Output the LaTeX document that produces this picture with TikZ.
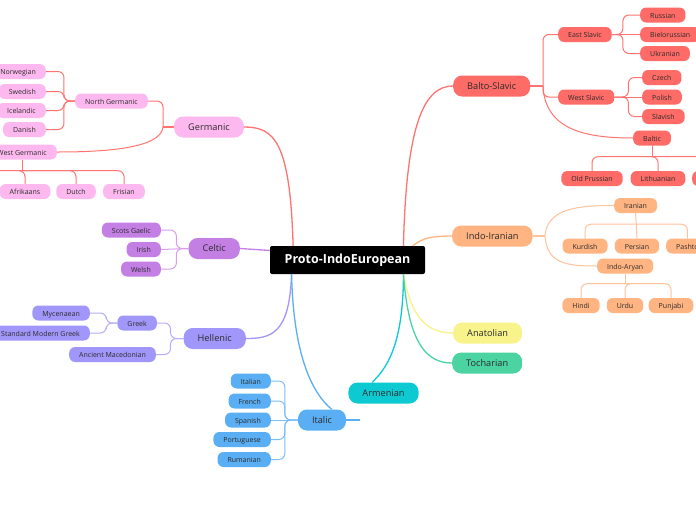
\documentclass[tikz,border=0pt]{standalone}
\usepackage{fontspec}
\setmainfont{Open Sans}
\usetikzlibrary{positioning,calc}
\definecolor{inkc}{HTML}{2B2B2B}
\definecolor{redB}{HTML}{FF6B66}
\definecolor{redL}{HTML}{FF7470}
\definecolor{pinkB}{HTML}{FDB9EF}
\definecolor{purpB}{HTML}{C47FE4}
\definecolor{purpL}{HTML}{D59DEC}
\definecolor{lavB}{HTML}{A197FA}
\definecolor{lavL}{HTML}{B5AEFB}
\definecolor{blueB}{HTML}{5AAEF4}
\definecolor{blueL}{HTML}{7EBEF6}
\definecolor{tealB}{HTML}{0DCAD2}
\definecolor{greenB}{HTML}{4BD4A1}
\definecolor{yellB}{HTML}{F8F38B}
\definecolor{orngB}{HTML}{FFB482}
\definecolor{orngL}{HTML}{FFC29C}
\tikzset{
  root/.style={fill=black,text=white,font=\fontsize{12.5}{14}\selectfont\bfseries,
              minimum width=155pt,minimum height=28pt,rounded corners=2pt},
  topic/.style={fill=#1,text=inkc,font=\fontsize{9.2}{11}\selectfont,
              inner xsep=14pt,inner ysep=0pt,minimum height=21pt,
              text height=1.5ex,text depth=.35ex,rounded corners=9pt},
  sub/.style={fill=#1,text=inkc,font=\fontsize{7}{8}\selectfont,
              inner xsep=10pt,inner ysep=0pt,minimum height=15pt,
              text height=1.5ex,text depth=.35ex,rounded corners=6pt},
  link/.style={draw=#1,line width=1.3pt},
  twig/.style={draw=#1,line width=1pt,rounded corners=6pt},
}

\begin{document}
\begin{tikzpicture}[x=1pt,y=-1pt]
  \fill[white] (0,0) rectangle (696,520);
  \useasboundingbox (0,0) rectangle (696,520);
  % root
  \node[root] (pie) at (347.5,260) {Proto-IndoEuropean};
  % main branches
  \node[topic=pinkB,anchor=east]  (germ) at (244,127)   {Germanic};
  \node[topic=purpB,anchor=east]  (celt) at (240,248.5) {Celtic};
  \node[topic=lavB,anchor=east]   (hell) at (246,338.5) {Hellenic};
  \node[topic=blueB]              (ital) at (322,420)   {Italic};
  \node[topic=tealB]              (arme) at (383.5,393) {Armenian};
  \node[topic=greenB,anchor=west] (toch) at (452,363)   {Tocharian};
  \node[topic=yellB,anchor=west]  (anat) at (453,333)   {Anatolian};
  \node[topic=orngB,anchor=west]  (indo) at (452,236)   {Indo-Iranian};
  \node[topic=redB,anchor=west]   (bslv) at (453,86)    {Balto-Slavic};
  % root to branches
  \draw[link=redL] ($(pie.north west)!.15!(pie.north east)$)
        .. controls +(-3,-105) and +(30,0) .. (germ.east);
  \draw[link=redL] ($(pie.north west)!.86!(pie.north east)$)
        .. controls +(3,-125) and +(-28,0) .. (bslv.west);
  \draw[link=orngB] ($(pie.north west)!.92!(pie.north east)$)
        .. controls +(10,-8) and +(-20,0) .. (indo.west);
  \draw[link=purpB] (pie.173) -- (celt.east);
  \draw[link=lavB] ($(pie.south west)!.14!(pie.south east)$)
        .. controls +(-2,60) and +(25,0) .. (hell.east);
  \draw[link=blueB] ($(pie.south west)!.14!(pie.south east)$)
        .. controls +(2,85) and +(-18,-15) .. ($(ital.north)!.4!(ital.north east)$);
  \coordinate (italstub) at (360,420);
  \draw[link=blueB] (ital.east) -- (italstub);
  \draw[link=tealB] ($(pie.south west)!.86!(pie.south east)$)
        .. controls +(0,75) and +(12,-12) .. ($(arme.north west)!.34!(arme.north east)$);
  \draw[link=yellB] ($(pie.south west)!.86!(pie.south east)$)
        .. controls +(8,45) and +(-25,0) .. (anat.west);
  \draw[link=greenB] ($(pie.south west)!.86!(pie.south east)$)
        .. controls +(5,70) and +(-25,0) .. (toch.west);

  % Balto-Slavic
  \node[sub=redB,anchor=west] (eslv) at (558,34.5) {East Slavic};
  \node[sub=redB,anchor=west] (wslv) at (558,97)   {West Slavic};
  \node[sub=redB,anchor=west] (bltc) at (633,138)  {Baltic};
  \node[sub=redB,anchor=west] (russ) at (640,15)   {Russian};
  \node[sub=redB,anchor=west] (bielo) at (640,34.5) {Bielorussian};
  \node[sub=redB,anchor=west] (ukr)  at (640,53.5) {Ukranian};
  \node[sub=redB,anchor=west] (czech) at (642,77.5) {Czech};
  \node[sub=redB,anchor=west] (pol)  at (642,97)   {Polish};
  \node[sub=redB,anchor=west] (slav) at (642,116.5) {Slavish};
  \node[sub=redB] (oprus) at (592,178.5) {Old Prussian};
  \node[sub=redB] (lith)  at (658,178.5) {Lithuanian};
  \node[sub=redB,anchor=west] (latv) at (692,178.5) {Latvian};
  \coordinate (bsfork) at (543,86);
  \coordinate (bltcfork) at ($(bltc.south)+(0,11)$);
  \draw[link=redL] (bslv.east) -- (bsfork);
  \draw[twig=redL] (bsfork) |- (eslv.west);
  \draw[twig=redL] (bsfork) |- (wslv.west);
  \draw[twig=redL] (bsfork) .. controls +(2,45) and +(-45,0) .. (bltc.west);
  \draw[twig=redL] (eslv.east) -- ++(11,0) |- (russ.west);
  \draw[twig=redL] (eslv.east) -- (bielo.west);
  \draw[twig=redL] (eslv.east) -- ++(11,0) |- (ukr.west);
  \draw[twig=redL] (wslv.east) -- ++(14,0) |- (czech.west);
  \draw[twig=redL] (wslv.east) -- (pol.west);
  \draw[twig=redL] (wslv.east) -- ++(14,0) |- (slav.west);
  \draw[twig=redL] (bltc.south) -- (bltcfork);
  \draw[twig=redL] (bltcfork) -| (oprus.north);
  \draw[twig=redL] (bltcfork) -| (lith.north);
  \draw[twig=redL] (bltcfork) -| (latv.north);

  % Indo-Iranian
  \node[sub=orngB,anchor=west] (iran) at (614,205.5) {Iranian};
  \node[sub=orngB,anchor=west] (iary) at (597,266)   {Indo-Aryan};
  \node[sub=orngB] (kurd) at (585,246) {Kurdish};
  \node[sub=orngB] (pers) at (637,246) {Persian};
  \node[sub=orngB,anchor=west] (pash) at (666,246) {Pashto};
  \node[sub=orngB] (hindi) at (581,305.5) {Hindi};
  \node[sub=orngB] (urdu)  at (625,305.5) {Urdu};
  \node[sub=orngB] (punj)  at (671,305.5) {Punjabi};
  \coordinate (iifork) at (545,236);
  \coordinate (iranfork) at ($(iran.south)+(0,11)$);
  \coordinate (iaryfork) at ($(iary.south)+(0,10)$);
  \draw[link=orngL] (indo.east) -- (iifork);
  \draw[twig=orngL] (iifork) .. controls +(2,-28) and +(-35,0) .. (iran.west);
  \draw[twig=orngL] (iifork) .. controls +(2,28) and +(-30,0) .. (iary.west);
  \draw[twig=orngL] (iran.south) -- (pers.north);
  \draw[twig=orngL] (iranfork) -| (kurd.north);
  \draw[twig=orngL] (iranfork) -| (pash.north);
  \draw[twig=orngL] (iary.south) -- (iaryfork);
  \draw[twig=orngL] (iaryfork) -| (hindi.north);
  \draw[twig=orngL] (iaryfork) -| (urdu.north);
  \draw[twig=orngL] (iaryfork) -| (punj.north);

  % Germanic
  \node[sub=pinkB,anchor=east] (ngerm) at (148,101) {North Germanic};
  \node[sub=pinkB,anchor=east] (wgerm) at (57,152)  {West Germanic};
  \node[sub=pinkB,anchor=east] (norw) at (46,71.5)  {Norwegian};
  \node[sub=pinkB,anchor=east] (swed) at (46,91.5)  {Swedish};
  \node[sub=pinkB,anchor=east] (icel) at (46,110.5) {Icelandic};
  \node[sub=pinkB,anchor=east] (dani) at (46,129.5) {Danish};
  \node[sub=pinkB] (afri)  at (25,191.5)  {Afrikaans};
  \node[sub=pinkB] (dutch) at (76,191.5)  {Dutch};
  \node[sub=pinkB] (fris)  at (124,191.5) {Frisian};
  \coordinate (gfork) at (163,127);
  \coordinate (wgfork) at ($(wgerm.south)+(0,11)$);
  \coordinate (wgleft) at (-30,184);
  \draw[link=redL] (germ.west) -- (gfork);
  \draw[twig=redL] (gfork) |- (ngerm.east);
  \draw[twig=redL] (gfork) .. controls +(-2,22) and +(45,0) .. (wgerm.east);
  \draw[twig=redL] (ngerm.west) -- ++(-11,0) |- (norw.east);
  \draw[twig=redL] (ngerm.west) -- ++(-11,0) |- (swed.east);
  \draw[twig=redL] (ngerm.west) -- ++(-11,0) |- (icel.east);
  \draw[twig=redL] (ngerm.west) -- ++(-11,0) |- (dani.east);
  \draw[twig=redL] (wgerm.south) -- (wgfork);
  \draw[twig=redL] (wgfork) -| (afri.north);
  \draw[twig=redL] (wgfork) -| (dutch.north);
  \draw[twig=redL] (wgfork) -| (fris.north);
  \draw[twig=redL] (wgfork) -| (wgleft);

  % Celtic
  \node[sub=purpB,anchor=east] (scot) at (161,230)   {Scots Gaelic};
  \node[sub=purpB,anchor=east] (iris) at (161,249.5) {Irish};
  \node[sub=purpB,anchor=east] (wels) at (161,269)   {Welsh};
  \draw[twig=purpL] (celt.west) -- ++(-12,0) |- (scot.east);
  \draw[twig=purpL] (celt.west) -- (iris.east);
  \draw[twig=purpL] (celt.west) -- ++(-12,0) |- (wels.east);

  % Hellenic
  \node[sub=lavB,anchor=east] (grk)  at (157,323)   {Greek};
  \node[sub=lavB,anchor=east] (amac) at (156,354.5) {Ancient Macedonian};
  \node[sub=lavB,anchor=east] (myce) at (90,313)    {Mycenaean};
  \node[sub=lavB,anchor=east] (smg)  at (90,333)    {Standard Modern Greek};
  \draw[twig=lavL] (hell.west) -- ++(-13,0) |- (grk.east);
  \draw[twig=lavL] (hell.west) -- ++(-13,0) |- (amac.east);
  \draw[twig=lavL] (grk.west) -- ++(-11,0) |- (myce.east);
  \draw[twig=lavL] (grk.west) -- ++(-11,0) |- (smg.east);

  % Italic
  \node[sub=blueB,anchor=east] (itan) at (271,381)   {Italian};
  \node[sub=blueB,anchor=east] (fren) at (271,401)   {French};
  \node[sub=blueB,anchor=east] (span) at (271,420)   {Spanish};
  \node[sub=blueB,anchor=east] (port) at (271,439.5) {Portuguese};
  \node[sub=blueB,anchor=east] (ruma) at (271,459.5) {Rumanian};
  \draw[twig=blueL] (ital.west) -- ++(-13,0) |- (itan.east);
  \draw[twig=blueL] (ital.west) -- ++(-13,0) |- (fren.east);
  \draw[twig=blueL] (ital.west) -- (span.east);
  \draw[twig=blueL] (ital.west) -- ++(-13,0) |- (port.east);
  \draw[twig=blueL] (ital.west) -- ++(-13,0) |- (ruma.east);
\end{tikzpicture}
\end{document}
